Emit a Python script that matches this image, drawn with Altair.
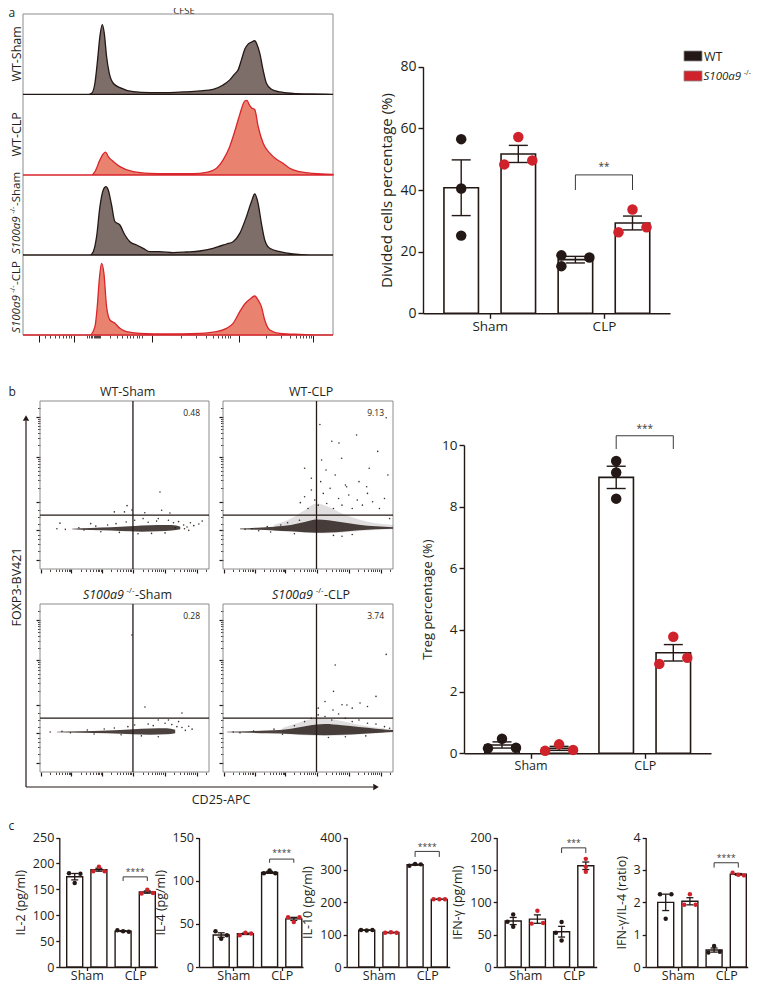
import altair as alt
import numpy as np
import pandas as pd

FONT = "Open Sans"
TXT = "#231f20"
BLACK = "#231815"
RED = "#d0222b"
DARK_FILL = "#7d6e6a"
RED_FILL = "#e9826f"
RED_LINE = "#d8262c"
GRAY = "#8c8c8c"

W, H = 743, 976
M = 8


def P(v):
    return v - M


ONE = pd.DataFrame({"a": [0]})

# ======================= DATA =======================
# --- a: CFSE histograms (channel, count) ---
cfse_wt_sham = [69, 265, 275, 285, 292, 300, 307, 313, 320, 328, 340, 360, 400, 450, 500, 550, 600, 640, 670, 690,
                705, 715, 725, 735, 745, 755, 765, 772, 780, 790, 800, 815, 840, 880, 940, 1000]
cnt_wt_sham = [0, 0, 3, 33, 93, 173, 208, 183, 113, 63, 33, 20, 8, 5, 5, 7, 10, 15, 28, 43,
               61, 73, 103, 135, 150, 156, 160, 148, 123, 73, 33, 15, 7, 3, 1, 0]
cfse_wt_clp = [69, 275, 285, 300, 310, 317, 325, 340, 360, 400, 450, 500, 580, 620, 650, 670, 690, 705, 720, 735,
               742, 748, 755, 765, 775, 790, 810, 830, 850, 870, 900, 940, 1000]
cnt_wt_clp = [0, 0, 10, 45, 63, 68, 55, 40, 25, 10, 5, 4, 4, 8, 20, 45, 85, 130, 180, 220,
              222, 210, 200, 195, 145, 95, 65, 47, 35, 20, 10, 5, 2]
cfse_ko_sham = [69, 270, 280, 290, 300, 310, 318, 325, 335, 345, 360, 375, 390, 410, 430, 450, 480, 520, 560, 600,
                640, 680, 700, 720, 740, 755, 765, 775, 785, 795, 810, 840, 880, 930, 1000]
cnt_ko_sham = [0, 0, 10, 55, 145, 195, 205, 195, 150, 100, 90, 60, 40, 30, 20, 10, 10, 7, 9, 12,
               20, 33, 40, 65, 115, 160, 183, 155, 95, 45, 20, 10, 3, 0, 0]
cfse_ko_clp = [69, 270, 285, 292, 298, 305, 312, 320, 330, 345, 360, 380, 420, 500, 600, 650, 680, 700, 720, 735,
               750, 765, 775, 785, 795, 810, 840, 900, 1000]
cnt_ko_clp = [0, 0, 25, 85, 165, 215, 185, 85, 45, 35, 20, 10, 5, 3, 5, 10, 20, 35, 70, 93,
              107, 117, 105, 85, 45, 15, 5, 2, 0]

GROUPS = ["Sham", "CLP"]
GENOS = ["WT", "KO"]

# --- a: divided cells percentage (%) ---
div_vals = {"Sham": {"WT": [56.5, 40.5, 25.2], "KO": [57.2, 48.3, 49.6]},
            "CLP": {"WT": [18.8, 15.3, 18.1], "KO": [33.7, 26.3, 27.9]}}
div_slots = {"Sham": {"WT": ["c", "c", "c"], "KO": ["c", "l", "r"]},
             "CLP": {"WT": ["l", "l", "r"], "KO": ["c", "l", "r"]}}

# --- b: flow plots (CD25 channel, FOXP3 channel), 0..1000 display units ---
wt_sham_bx = [190, 300, 420, 530, 600, 700, 780, 830]
wt_sham_blo = [237, 232, 229, 224, 222, 224, 229, 236]
wt_sham_bhi = [240, 244, 248, 254, 259, 262, 262, 252]
wt_sham_px = [100, 118, 150, 230, 260, 300, 330, 360, 400, 440, 450, 470, 500, 510, 515, 544, 560, 580, 610, 620,
              640, 660, 690, 700, 710, 720, 740, 760, 769, 790, 800, 820, 850, 855, 870, 880, 890, 910, 940, 960]
wt_sham_py = [240, 273, 236, 245, 232, 270, 255, 222, 262, 340, 270, 218, 340, 280, 377, 351, 290, 210, 300, 335,
              278, 212, 285, 300, 458, 350, 215, 290, 333, 275, 245, 282, 262, 240, 250, 230, 275, 258, 268, 285]

wt_clp_bx = [100, 200, 300, 400, 480, 550, 620, 700, 800, 900, 1000]
wt_clp_blo = [237, 233, 229, 224, 219, 216, 217, 222, 230, 236, 240]
wt_clp_bhi = [241, 246, 252, 262, 280, 295, 290, 278, 264, 254, 248]
wt_clp_lx = [300, 400, 480, 550, 620, 700, 800, 900, 1000]
wt_clp_llo = [228, 222, 216, 213, 213, 218, 226, 232, 236]
wt_clp_lhi = [262, 300, 350, 390, 370, 330, 295, 272, 262]
wt_clp_px = [130, 170, 210, 260, 280, 340, 380, 420, 450, 455, 480, 500, 520, 540, 560, 575, 580, 590, 606, 610,
             630, 650, 650, 660, 680, 682, 698, 700, 700, 720, 727, 740, 760, 786, 790, 820, 845, 850, 860, 880,
             910, 920, 950, 960, 970, 980, 480, 520, 800, 570, 640, 760]
wt_clp_py = [236, 240, 228, 252, 220, 262, 275, 210, 290, 395, 430, 360, 470, 410, 380, 520, 649, 450, 589, 390,
             480, 360, 200, 560, 420, 750, 659, 380, 195, 500, 490, 440, 360, 798, 410, 380, 490, 450, 600, 400,
             700, 360, 420, 900, 560, 300, 600, 540, 520, 860, 760, 205]

ko_sham_bx = [100, 237, 400, 550, 650, 750, 800]
ko_sham_blo = [237, 233, 230, 224, 222, 224, 230]
ko_sham_bhi = [240, 243, 247, 255, 259, 261, 252]
ko_sham_px = [60, 130, 180, 280, 320, 380, 440, 480, 520, 544, 560, 600, 621, 640, 670, 700, 700, 740, 760, 780,
              810, 820, 840, 840, 860, 880, 900]
ko_sham_py = [238, 242, 234, 250, 226, 256, 262, 222, 270, 815, 280, 215, 387, 285, 276, 210, 310, 290, 310, 282,
              270, 300, 265, 351, 248, 272, 255]

ko_clp_bx = [24, 150, 259, 400, 500, 600, 700, 800, 900, 1000]
ko_clp_blo = [237, 234, 230, 226, 221, 219, 221, 226, 232, 238]
ko_clp_bhi = [240, 243, 247, 258, 276, 285, 278, 268, 258, 250]
ko_clp_lx = [350, 450, 550, 650, 750, 850, 950]
ko_clp_llo = [228, 220, 216, 216, 220, 228, 234]
ko_clp_lhi = [262, 295, 318, 312, 292, 272, 260]
ko_clp_px = [60, 100, 180, 300, 350, 420, 480, 520, 560, 560, 600, 600, 620, 640, 647, 650, 660, 680, 700, 720,
             720, 729, 760, 760, 800, 806, 840, 850, 850, 900, 900, 950, 960, 980]
ko_clp_py = [238, 233, 244, 255, 225, 275, 300, 320, 340, 380, 330, 420, 205, 310, 369, 480, 637, 345, 400, 320,
             210, 399, 300, 380, 310, 411, 215, 290, 390, 285, 450, 270, 700, 260]

gate_cd25 = [550, 550, 550, 550]
gate_foxp3 = [321, 321, 321, 321]
treg_gate_pct = ["0.48", "9.13", "0.28", "3.74"]

# --- b: Treg percentage (%) ---
treg_vals = {"Sham": {"WT": [0.16, 0.47, 0.18], "KO": [0.08, 0.29, 0.11]},
             "CLP": {"WT": [9.48, 9.11, 8.26], "KO": [3.78, 2.90, 3.10]}}
treg_slots = {"Sham": {"WT": ["l", "c", "r"], "KO": ["l", "c", "r"]},
              "CLP": {"WT": ["c", "c", "c"], "KO": ["c", "l", "r"]}}

# --- c: cytokines ---
il2_vals = {"Sham": {"WT": [181, 180, 162], "KO": [193.5, 185, 185]},
            "CLP": {"WT": [71, 69, 68], "KO": [142, 149, 143]}}
il2_slots = {"Sham": {"WT": ["l", "r", "c"], "KO": ["c", "l", "r"]},
             "CLP": {"WT": ["l", "c", "r"], "KO": ["l", "c", "r"]}}
il4_vals = {"Sham": {"WT": [41.5, 32.7, 36.9], "KO": [36.9, 39.6, 38.8]},
            "CLP": {"WT": [108.5, 111.9, 108.5], "KO": [57.5, 52.2, 57.5]}}
il4_slots = {"Sham": {"WT": ["l", "c", "r"], "KO": ["l", "c", "r"]},
             "CLP": {"WT": ["l", "c", "r"], "KO": ["l", "c", "r"]}}
il10_vals = {"Sham": {"WT": [114, 113, 114], "KO": [106, 107, 106]},
             "CLP": {"WT": [313, 318, 317], "KO": [209, 209, 209]}}
il10_slots = {"Sham": {"WT": ["l", "c", "r"], "KO": ["l", "c", "r"]},
              "CLP": {"WT": ["l", "c", "r"], "KO": ["l", "c", "r"]}}
ifn_vals = {"Sham": {"WT": [81, 70, 62], "KO": [87, 67, 68]},
            "CLP": {"WT": [69.5, 53, 41], "KO": [167, 155, 147]}}
ifn_slots = {"Sham": {"WT": ["c", "l", "c"], "KO": ["c", "l", "r"]},
             "CLP": {"WT": ["c", "l", "c"], "KO": ["c", "c", "c"]}}
ratio_vals = {"Sham": {"WT": [2.25, 2.25, 1.49], "KO": [2.25, 1.92, 1.92]},
              "CLP": {"WT": [0.65, 0.45, 0.47], "KO": [2.91, 2.85, 2.83]}}
ratio_slots = {"Sham": {"WT": ["l", "r", "c"], "KO": ["c", "l", "r"]},
               "CLP": {"WT": ["c", "l", "r"], "KO": ["l", "c", "r"]}}

# axis tick positions (display channels)
HIST_MAJOR = [118, 222, 455, 718, 940]
HIST_MINOR = [135, 150, 165, 178, 188, 198, 206, 213, 262, 268, 273, 277, 281, 284, 287, 290, 293, 297, 300,
              330, 350, 365, 380, 390, 400, 410, 418, 425, 545, 590, 620, 640, 655, 667, 677, 685, 692,
              800, 845, 870, 888, 900, 911, 920, 928, 935]
FLOW_Y_MAJOR = [54, 232, 399, 667, 905]
FLOW_Y_MINOR = [110, 150, 180, 205, 270, 310, 350, 480, 527, 560, 586, 607, 625, 641, 655,
                739, 781, 810, 833, 852, 868, 882, 894, 960]
FLOW_X_MAJOR = [4, 186, 365, 552, 740, 927]
FLOW_X_MINOR = [59, 92, 115, 132, 147, 159, 170, 179, 241, 274, 297, 314, 329, 341, 352, 361,
                420, 453, 476, 493, 508, 520, 531, 540, 607, 640, 663, 680, 695, 707, 718, 727,
                795, 828, 851, 868, 883, 895, 906, 915, 982]

# ======================= HELPERS =======================
CW = {"W": 0.89, "T": 0.56, "S": 0.55, "h": 0.61, "a": 0.556, "m": 0.93, "-": 0.32, "/": 0.37,
      "C": 0.63, "L": 0.52, "P": 0.60, " ": 0.26}


def tw(s, size):
    return sum(CW.get(ch, 0.572) for ch in s) * size


def vtext(txt, x, y, size=12, angle=0, align="center", italic=False, color=TXT, dx=0, dy=0, baseline="middle"):
    return alt.Chart(ONE).mark_text(
        text=txt, fontSize=size, angle=angle, align=align, baseline=baseline, font=FONT,
        fontStyle="italic" if italic else "normal", color=color, dx=dx, dy=dy
    ).encode(x=alt.value(P(x)), y=alt.value(P(y)))


def rich(segs, x, y, size, angle=0, align="center"):
    widths = []
    for t, it, sup in segs:
        fs = size * 0.62 if sup else size
        widths.append(tw(t, fs) + (0.6 if sup else 0) + (1.2 if it else 0))
    total = sum(widths)
    pos = {"left": 0, "center": -total / 2, "right": -total}[align]
    out = []
    for (t, it, sup), w in zip(segs, widths):
        fs = size * 0.62 if sup else size
        out.append(vtext(t, x, y, size=fs, angle=angle, align="left", italic=it,
                         dx=pos, dy=-size * 0.33 if sup else 0))
        pos += w
    return out


def ko_label(suffix):
    return [("S100a9", True, False), ("-/-", False, True), (suffix, False, False)]


layers = []

# ======================= PANEL a: histograms =======================
layers += [vtext("a", 8.5, 16.5, size=12, align="left", baseline="alphabetic"),
           vtext("b", 8.5, 396, size=12, align="left", baseline="alphabetic"),
           vtext("c", 8.5, 830, size=12, align="left", baseline="alphabetic")]
layers.append(vtext("CFSE", 184, 13.6, size=9.5, baseline="alphabetic"))

ROW_EDGES = [14, 94.3, 175, 255, 335]
ROW_LABEL_Y = [54, 134.5, 213, 297]
ROW_LABEL_SIZE = [12.5, 12.5, 11.5, 11.5]
cx = alt.Scale(domain=[69, 1000], range=[P(23), P(333)], nice=False, zero=False)
rows_sc = alt.Scale(domain=[0, 4], range=[P(335), P(14)], nice=False, zero=False)
layers.append(
    alt.Chart(pd.DataFrame({"x0": [69], "x1": [1000], "y0": [0], "y1": [4]})).mark_rect(
        fillOpacity=0, stroke=GRAY, strokeWidth=1
    ).encode(
        x=alt.X("x0:Q", scale=cx, axis=alt.Axis(orient="bottom", offset=P(335) - H, values=HIST_MINOR, tickSize=3,
                                                tickWidth=0.8, labels=False, domain=False, title=None)),
        x2="x1:Q",
        y=alt.Y("y0:Q", scale=rows_sc, axis=None), y2="y1:Q")
)
layers.append(
    alt.Chart(pd.DataFrame({"x": [69]})).mark_point(opacity=0).encode(
        x=alt.X("x:Q", scale=cx, axis=alt.Axis(orient="bottom", offset=P(335) - H, values=HIST_MAJOR, tickSize=7,
                                               tickWidth=1, labels=False, domain=False, title=None)),
        y=alt.value(0))
)

hist_rows = [
    (cfse_wt_sham, cnt_wt_sham, DARK_FILL, BLACK, [("WT-Sham", False, False)]),
    (cfse_wt_clp, cnt_wt_clp, RED_FILL, RED_LINE, [("WT-CLP", False, False)]),
    (cfse_ko_sham, cnt_ko_sham, DARK_FILL, BLACK, ko_label("-Sham")),
    (cfse_ko_clp, cnt_ko_clp, RED_FILL, RED_LINE, ko_label("-CLP")),
]
for i, (xs, cs, fill, line, lab) in enumerate(hist_rows):
    top, bot = ROW_EDGES[i], ROW_EDGES[i + 1]
    ysc = alt.Scale(domain=[0, 240], range=[P(bot), P(top)], nice=False, zero=False)
    df = pd.DataFrame({"c": xs, "n": cs})
    layers.append(
        alt.Chart(df).mark_area(fill=fill, stroke=line, strokeWidth=1.3, interpolate="monotone", opacity=1).encode(
            x=alt.X("c:Q", scale=cx, axis=None), y=alt.Y("n:Q", scale=ysc, axis=None))
    )
    layers += rich(lab, 17, ROW_LABEL_Y[i], ROW_LABEL_SIZE[i], angle=270, align="center")

# ======================= PANEL b: flow plots =======================
FLOW = [
    (40, 401, 169, 168, wt_sham_bx, wt_sham_blo, wt_sham_bhi, None, None, None, wt_sham_px, wt_sham_py,
     [("WT-Sham", False, False)]),
    (223, 401, 170, 168, wt_clp_bx, wt_clp_blo, wt_clp_bhi, wt_clp_lx, wt_clp_llo, wt_clp_lhi, wt_clp_px, wt_clp_py,
     [("WT-CLP", False, False)]),
    (40, 604, 169, 168, ko_sham_bx, ko_sham_blo, ko_sham_bhi, None, None, None, ko_sham_px, ko_sham_py,
     ko_label("-Sham")),
    (223, 604, 170, 168, ko_clp_bx, ko_clp_blo, ko_clp_bhi, ko_clp_lx, ko_clp_llo, ko_clp_lhi, ko_clp_px, ko_clp_py,
     ko_label("-CLP")),
]
for i, (x0, y0, pw, ph, bx, blo, bhi, lx, llo, lhi, spx, spy, ttl) in enumerate(FLOW):
    xs = alt.Scale(domain=[0, 1000], range=[P(x0), P(x0 + pw)], nice=False, zero=False)
    ys = alt.Scale(domain=[0, 1000], range=[P(y0 + ph), P(y0)], nice=False, zero=False)
    layers.append(
        alt.Chart(pd.DataFrame({"x0": [0], "x1": [1000], "y0": [0], "y1": [1000]})).mark_rect(
            fillOpacity=0, stroke=GRAY, strokeWidth=1
        ).encode(
            x=alt.X("x0:Q", scale=xs, axis=alt.Axis(orient="bottom", offset=P(y0 + ph) - H, values=FLOW_X_MINOR,
                                                    tickSize=2.5, tickWidth=0.8, labels=False, domain=False,
                                                    title=None)),
            x2="x1:Q",
            y=alt.Y("y0:Q", scale=ys, axis=alt.Axis(orient="left", offset=-P(x0), values=FLOW_Y_MINOR, tickSize=2.5,
                                                    tickWidth=0.8, labels=False, domain=False, title=None)),
            y2="y1:Q")
    )
    layers.append(
        alt.Chart(pd.DataFrame({"x": [0], "y": [0]})).mark_point(opacity=0).encode(
            x=alt.X("x:Q", scale=xs, axis=alt.Axis(orient="bottom", offset=P(y0 + ph) - H, values=FLOW_X_MAJOR,
                                                   tickSize=4, tickWidth=1.2, labels=False, domain=False,
                                                   title=None)),
            y=alt.Y("y:Q", scale=ys, axis=alt.Axis(orient="left", offset=-P(x0), values=FLOW_Y_MAJOR, tickSize=4,
                                                   tickWidth=1.2, labels=False, domain=False, title=None)))
    )
    if lx is not None:
        layers.append(
            alt.Chart(pd.DataFrame({"x": lx, "lo": llo, "hi": lhi})).mark_area(
                color=BLACK, opacity=0.14, interpolate="monotone").encode(
                x=alt.X("x:Q", scale=xs, axis=None), y=alt.Y("lo:Q", scale=ys, axis=None), y2="hi:Q")
        )
    layers.append(
        alt.Chart(pd.DataFrame({"x": bx, "lo": blo, "hi": bhi})).mark_area(
            color=BLACK, opacity=0.82, interpolate="monotone").encode(
            x=alt.X("x:Q", scale=xs, axis=None), y=alt.Y("lo:Q", scale=ys, axis=None), y2="hi:Q")
    )
    layers.append(
        alt.Chart(pd.DataFrame({"x": spx, "y": spy})).mark_circle(size=2.5, color=BLACK, opacity=0.9).encode(
            x=alt.X("x:Q", scale=xs, axis=None), y=alt.Y("y:Q", scale=ys, axis=None))
    )
    layers.append(
        alt.Chart(pd.DataFrame({"g": [gate_cd25[i]], "a": [0], "b": [1000]})).mark_rule(
            color=BLACK, strokeWidth=1.3).encode(
            x=alt.X("g:Q", scale=xs, axis=None), y=alt.Y("a:Q", scale=ys, axis=None), y2="b:Q")
    )
    layers.append(
        alt.Chart(pd.DataFrame({"g": [gate_foxp3[i]], "a": [0], "b": [1000]})).mark_rule(
            color=BLACK, strokeWidth=1.3).encode(
            y=alt.Y("g:Q", scale=ys, axis=None), x=alt.X("a:Q", scale=xs, axis=None), x2="b:Q")
    )
    layers.append(vtext(treg_gate_pct[i], x0 + pw - 9, y0 + 12, size=8.5, align="right"))
    layers += rich(ttl, x0 + pw / 2 + 3, y0 - 9, 12.5, angle=0, align="center")

# axes arrows of the flow block
layers.append(alt.Chart(ONE).mark_rule(color=BLACK, strokeWidth=1.2).encode(
    x=alt.value(P(26)), y=alt.value(P(787)), y2=alt.value(P(421))))
layers.append(alt.Chart(ONE).mark_point(shape="triangle-up", filled=True, size=40, color=BLACK, opacity=1).encode(
    x=alt.value(P(26)), y=alt.value(P(418))))
layers.append(alt.Chart(ONE).mark_rule(color=BLACK, strokeWidth=1.2).encode(
    x=alt.value(P(26)), x2=alt.value(P(373)), y=alt.value(P(787))))
layers.append(alt.Chart(ONE).mark_point(shape="triangle-right", filled=True, size=40, color=BLACK, opacity=1).encode(
    x=alt.value(P(376)), y=alt.value(P(787))))
layers.append(vtext("FOXP3-BV421", 17, 587, size=12.5, angle=270))
layers.append(vtext("CD25-APC", 221, 800, size=12.5))


# ======================= BAR PANELS =======================
def bar_panel(data, slots, ymax, yticks, ytitle, g, sig):
    ax, ybot, ytop, xlen = g["ax"], g["ybot"], g["ytop"], g["xlen"]
    off1, S, BW = g["off1"], g["S"], g["BW"]
    keys = [f"{gr}|{ge}" for gr in GROUPS for ge in GENOS]
    recs = []
    for gr in GROUPS:
        for ge in GENOS:
            for v, s in zip(data[gr][ge], slots[gr][ge]):
                recs.append({"key": f"{gr}|{ge}", "geno": ge, "slot": s, "v": v})
    pts = pd.DataFrame(recs)
    st = pts.groupby(["key", "geno"], sort=False)["v"].agg(["mean", "std", "count"]).reset_index()
    st["sem"] = st["std"] / np.sqrt(st["count"])
    st["lo"] = st["mean"] - st["sem"]
    st["hi"] = st["mean"] + st["sem"]

    ys = alt.Scale(domain=[0, ymax], range=[P(ybot), P(ytop)], nice=False, zero=False)
    x0 = ax + off1 - S / 2
    pin = 1 - BW / S
    ks = alt.Scale(domain=keys, range=[P(x0), P(x0 + 4 * S)], paddingInner=pin, paddingOuter=pin / 2)
    gsc = alt.Scale(domain=GROUPS, range=[P(x0), P(x0 + 4 * S)], paddingInner=0, paddingOuter=0)
    lin = alt.Scale(domain=[0, 1], range=[P(ax), P(ax + xlen)], nice=False, zero=False)
    out = []
    out.append(alt.Chart(pd.DataFrame({"u": [0, 1], "v": [0, 0]})).mark_point(opacity=0).encode(
        x=alt.X("u:Q", scale=lin, axis=alt.Axis(orient="bottom", offset=P(ybot) - H, ticks=False, labels=False,
                                                domain=True, domainWidth=g["lw"], title=None)),
        y=alt.Y("v:Q", scale=ys, axis=alt.Axis(orient="left", offset=-P(ax), values=yticks, tickSize=g["ts"],
                                               tickWidth=g["lw"], domainWidth=g["lw"], labelFontSize=g["lfs"],
                                               labelPadding=2, title=ytitle, titleFontSize=g["tfs"],
                                               titlePadding=g["tpad"]))))
    out.append(alt.Chart(pd.DataFrame({"group": GROUPS})).mark_point(opacity=0).encode(
        x=alt.X("group:N", scale=gsc, axis=alt.Axis(orient="bottom", offset=P(ybot) - H, domain=False,
                                                    tickSize=g["ts"], tickWidth=g["lw"], labelFontSize=g["xfs"],
                                                    labelPadding=g.get("xpad", 1), labelAngle=0,
                                                    labelBaseline=g.get("xbase", "top"), title=None)),
        y=alt.value(0)))
    out.append(alt.Chart(st).mark_bar(fill="white", stroke=BLACK, strokeWidth=g["bsw"]).encode(
        x=alt.X("key:N", scale=ks, axis=None), y=alt.Y("mean:Q", scale=ys, axis=None)))
    out.append(alt.Chart(st).mark_rule(color=BLACK, strokeWidth=g["lw"]).encode(
        x=alt.X("key:N", scale=ks, axis=None), y=alt.Y("lo:Q", scale=ys, axis=None), y2="hi:Q"))
    for col in ["lo", "hi"]:
        out.append(alt.Chart(st).mark_tick(color=BLACK, thickness=g["lw"], size=g["cap"], orient="horizontal",
                                           opacity=1).encode(
            x=alt.X("key:N", scale=ks, axis=None), y=alt.Y(f"{col}:Q", scale=ys, axis=None)))
    out.append(alt.Chart(pts).mark_circle(size=g["dot"], opacity=1).encode(
        x=alt.X("key:N", scale=ks, axis=None),
        xOffset=alt.XOffset("slot:N", scale=alt.Scale(domain=["l", "c", "r"],
                                                      range=[BW / 2 - 1.5 * g["doff"], BW / 2 + 1.5 * g["doff"]])),
        y=alt.Y("v:Q", scale=ys, axis=None),
        color=alt.Color("geno:N", scale=alt.Scale(domain=GENOS, range=[BLACK, RED]), legend=None)))
    leg, top, sy, stxt = sig
    bdf = pd.DataFrame({"key": ["CLP|WT", "CLP|WT", "CLP|KO", "CLP|KO"], "v": [leg, top, top, leg],
                        "o": [0, 1, 2, 3]})
    out.append(alt.Chart(bdf).mark_line(color="#3a3a3a", strokeWidth=1).encode(
        x=alt.X("key:N", scale=ks, axis=None), y=alt.Y("v:Q", scale=ys, axis=None), order="o:Q"))
    out.append(alt.Chart(pd.DataFrame({"group": ["CLP"], "v": [sy]})).mark_text(
        text=stxt, fontSize=g["sfs"], font=FONT, color="#3a3a3a").encode(
        x=alt.X("group:N", scale=gsc, axis=None), y=alt.Y("v:Q", scale=ys, axis=None)))
    return out


GA = dict(ax=423, ybot=313.3, ytop=66.7, xlen=247, off1=38.2, S=57.1, BW=34.5, cap=19, dot=110, doff=14,
          bsw=1.6, lw=1.4, ts=5, lfs=14, tfs=15, tpad=5, xfs=13.5, sfs=10)
GB = dict(GA, ax=464, ybot=753.3, ytop=445, off1=38, lfs=13.5, tfs=13, tpad=7, xfs=12.5)
GC = dict(ybot=967, ytop=837.5, S=24.2, BW=16, cap=7, dot=20, doff=5.7, bsw=1.4, lw=1.3, ts=3.5, lfs=12.5,
          tfs=12.5, tpad=5, xfs=12.5, sfs=8.5, xpad=9, xbase="alphabetic")

layers += bar_panel(div_vals, div_slots, 80, [0, 20, 40, 60, 80], "Divided cells percentage (%)", GA,
                    (40, 44.9, 47.5, "**"))
layers += bar_panel(treg_vals, treg_slots, 10, [0, 2, 4, 6, 8, 10], "Treg percentage (%)", GB,
                    (9.87, 10.3, 10.52, "***"))
layers += bar_panel(il2_vals, il2_slots, 250, [0, 50, 100, 150, 200, 250], "IL-2 (pg/ml)",
                    dict(GC, ax=59.3, off1=15.4, xlen=98), (166, 174, 184, "****"))
layers += bar_panel(il4_vals, il4_slots, 150, [0, 50, 100, 150], "IL-4 (pg/ml)",
                    dict(GC, ax=199, off1=22.2, xlen=104), (120.7, 125, 132, "****"))
layers += bar_panel(il10_vals, il10_slots, 400, [0, 100, 200, 300, 400], "IL-10 (pg/ml)",
                    dict(GC, ax=346.7, off1=20, xlen=103), (340, 357, 371, "****"))
layers += bar_panel(ifn_vals, ifn_slots, 200, [0, 50, 100, 150, 200], "IFN-γ (pg/ml)",
                    dict(GC, ax=496.7, off1=16.5, xlen=100), (176, 184, 192, "***"))
layers += bar_panel(ratio_vals, ratio_slots, 4, [0, 1, 2, 3, 4], "IFN-γ/IL-4 (ratio)",
                    dict(GC, ax=645.7, off1=20, xlen=102), (3.07, 3.22, 3.38, "****"))

# ======================= LEGEND =======================
layers.append(alt.Chart(ONE).mark_rect(fill=BLACK, stroke="#8a8a8a", strokeWidth=0.8).encode(
    x=alt.value(P(684)), x2=alt.value(P(702)), y=alt.value(P(51)), y2=alt.value(P(61))))
layers.append(alt.Chart(ONE).mark_rect(fill=RED, stroke="#8a8a8a", strokeWidth=0.8).encode(
    x=alt.value(P(684)), x2=alt.value(P(702)), y=alt.value(P(71)), y2=alt.value(P(81))))
layers.append(vtext("WT", 704, 56.5, size=12.5, align="left"))
layers += rich([("S100a9", True, False), ("-/-", False, True)], 703.5, 76.5, 11.5, align="left")

chart = alt.layer(*layers).resolve_scale(
    x="independent", y="independent", color="independent", xOffset="independent"
).properties(
    width=W, height=H, autosize=alt.AutoSizeParams(type="none"), padding=0
).configure_view(stroke=None).configure_axis(
    grid=False, labelFont=FONT, titleFont=FONT, titleFontWeight="normal", labelColor=TXT, titleColor=TXT,
    domainColor=BLACK, tickColor=BLACK
)

chart.save("out.html", embed_options={"renderer": "svg", "actions": False})
